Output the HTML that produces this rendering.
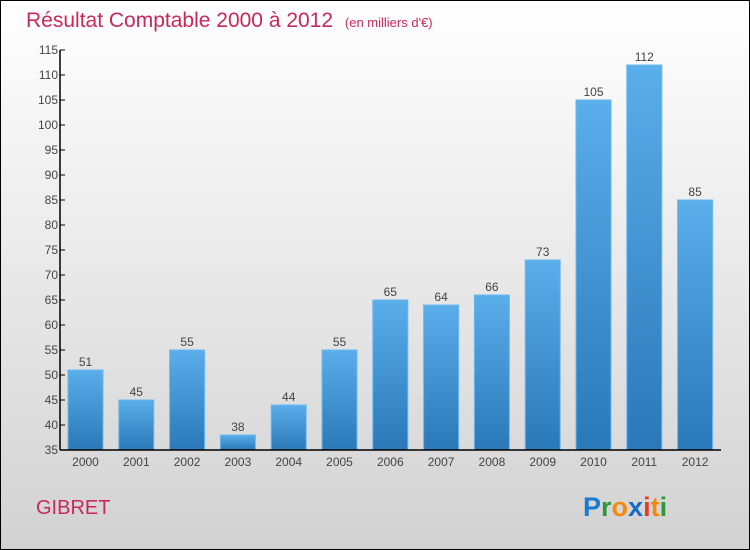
<!DOCTYPE html>
<html><head><meta charset="utf-8"><style>
html,body{margin:0;padding:0}
body{width:750px;height:550px;overflow:hidden;font-family:"Liberation Sans",sans-serif}
#wrap{position:absolute;left:0;top:0;width:748px;height:548px;border:1px solid #000;background:linear-gradient(#ffffff,#d2d2d2)}
</style></head><body>
<div id="wrap">
<svg id="chart" width="750" height="550" style="position:absolute;left:-1px;top:-1px">
<defs><linearGradient id="bg" x1="0" y1="0" x2="0" y2="1"><stop offset="0" stop-color="#5aaeea"/><stop offset="1" stop-color="#2a78b8"/></linearGradient></defs>
<text x="26" y="27" font-size="21" fill="#c8285a">Résultat Comptable 2000 à 2012 <tspan font-size="13" dx="6">(en milliers d'€)</tspan></text>
<text x="36" y="514" font-size="20" fill="#c8285a">GIBRET</text>
<g font-size="27" font-weight="bold">
<text x="583" y="516"><tspan fill="#1a7ad0">P</tspan><tspan fill="#2a9a3a">r</tspan><tspan fill="#f08a10">o</tspan><tspan fill="#1a6ac8">x</tspan><tspan fill="#e83a20">i</tspan><tspan fill="#f08a10">t</tspan><tspan fill="#2a9a3a">i</tspan></text></g>
<g id="plot"></g>
</svg></div>
<script>
const categories=["2000","2001","2002","2003","2004","2005","2006","2007","2008","2009","2010","2011","2012"];
const values=[51,45,55,38,44,55,65,64,66,73,105,112,85];
const yTicks=[35,40,45,50,55,60,65,70,75,80,85,90,95,100,105,110,115];
const NS="http://www.w3.org/2000/svg";
const g=document.getElementById('plot');
const yMin=35,yMax=115,y0=450,y1=50;
function y(v){return y0-(v-yMin)/(yMax-yMin)*(y0-y1);}
function xc(i){return 85.5+i*50.8;}
function mk(t,a){const e=document.createElementNS(NS,t);for(const k in a)e.setAttribute(k,a[k]);g.appendChild(e);return e;}
values.forEach((v,i)=>{
const r=mk('rect',{x:xc(i)-17.5,y:y(v),width:35,height:y0-y(v),fill:'url(#bg)',stroke:'#6ab8f0','stroke-width':1});


const t=mk('text',{x:xc(i),y:y(v)-4,'text-anchor':'middle','font-size':12,fill:'#444'});
t.textContent=v;


const c=mk('text',{x:xc(i),y:466,'text-anchor':'middle','font-size':12,fill:'#444'});
c.textContent=categories[i];


});
yTicks.forEach(v=>{
mk('line',{x1:60,x2:65,y1:y(v),y2:y(v),stroke:'#000'});
const t=mk('text',{x:58,y:y(v)+4,'text-anchor':'end','font-size':12,fill:'#444'});
t.textContent=v;


});
const ya=mk('line',{x1:60,x2:60,y1:y1,y2:y0,stroke:'#000','stroke-width':1.5});


const xa=mk('line',{x1:60,x2:721,y1:y0,y2:y0,stroke:'#000','stroke-width':1.5});


</script>
</body></html>
